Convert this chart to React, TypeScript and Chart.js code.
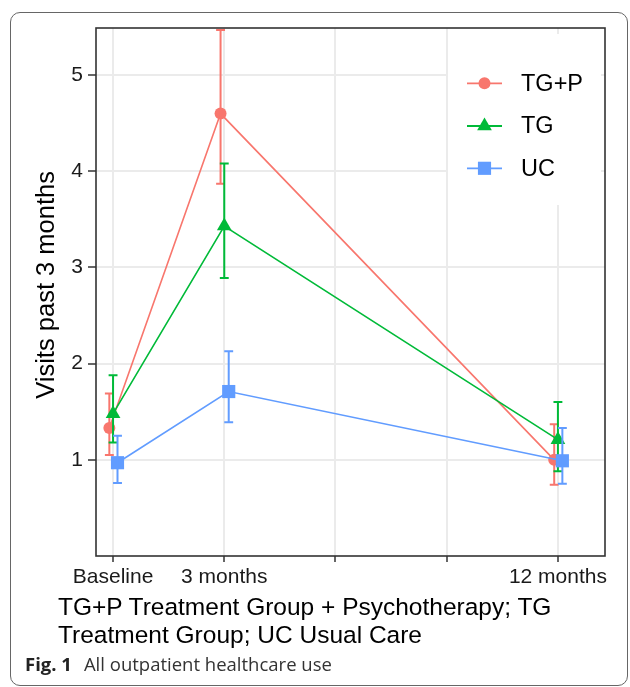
import React, { useEffect, useRef } from 'react';
import { Chart, registerables } from 'chart.js';

Chart.register(...registerables);

// ---- data ----
const timepoints = [0, 3, 12];
const xTickValues = [0, 3, 6, 9, 12];
const xTickLabels = ['Baseline', '3 months', '', '', '12 months'];
const yTickValues = [1, 2, 3, 4, 5];
const groups = ['TG+P', 'TG', 'UC'];

const tgpMean = [1.33, 4.6, 1.0];
const tgpLow = [1.05, 3.87, 0.74];
const tgpHigh = [1.69, 5.47, 1.37];

const tgMean = [1.48, 3.43, 1.21];
const tgLow = [1.18, 2.89, 0.88];
const tgHigh = [1.88, 4.08, 1.6];

const ucMean = [0.97, 1.71, 0.99];
const ucLow = [0.76, 1.39, 0.75];
const ucHigh = [1.25, 2.13, 1.33];

// ---- styles ----
const colors = ['#F8766D', '#00BA38', '#619CFF'];
const pointStyles = ['circle', 'triangle', 'rect'];
const pointRadii = [6, 8.5, 9.3];
const dodge = [-0.1, 0, 0.12];
const FONT = '"Liberation Sans", Arial, Helvetica, sans-serif';

const means = [tgpMean, tgMean, ucMean];
const lows = [tgpLow, tgLow, ucLow];
const highs = [tgpHigh, tgHigh, ucHigh];

function drawMarker(ctx: CanvasRenderingContext2D, style: string, x: number, y: number, r: number) {
  ctx.beginPath();
  if (style === 'circle') {
    ctx.arc(x, y, r, 0, Math.PI * 2);
  } else if (style === 'triangle') {
    for (let k = 0; k < 3; k++) {
      const a = (k * 2 * Math.PI) / 3;
      const px = x + Math.sin(a) * r;
      const py = y - Math.cos(a) * r;
      if (k === 0) ctx.moveTo(px, py);
      else ctx.lineTo(px, py);
    }
    ctx.closePath();
  } else {
    const s = r / Math.SQRT2;
    ctx.rect(x - s, y - s, 2 * s, 2 * s);
  }
  ctx.fill();
}

const errorBarPlugin = {
  id: 'errorBars',
  afterDatasetDraw(chart: any, args: any) {
    const i = args.index;
    const ds = chart.data.datasets[i];
    const xs = chart.scales.x;
    const ys = chart.scales.y;
    const ctx = chart.ctx;
    ctx.save();
    ctx.strokeStyle = ds.borderColor;
    ctx.lineWidth = 2;
    ds.data.forEach((d: any) => {
      const px = xs.getPixelForValue(d.x);
      const cl = xs.getPixelForValue(d.x - 0.12);
      const cr = xs.getPixelForValue(d.x + 0.12);
      const yh = ys.getPixelForValue(d.hi);
      const yl = ys.getPixelForValue(d.lo);
      ctx.beginPath();
      ctx.moveTo(px, yh);
      ctx.lineTo(px, yl);
      ctx.moveTo(cl, yh);
      ctx.lineTo(cr, yh);
      ctx.moveTo(cl, yl);
      ctx.lineTo(cr, yl);
      ctx.stroke();
    });
    ctx.restore();
  },
};

const legendPlugin = {
  id: 'insideLegend',
  beforeDatasetsDraw(chart: any) {
    const ctx = chart.ctx;
    const ca = chart.chartArea;
    const left = ca.right - 157;
    const top = ca.top + 6;
    ctx.save();
    ctx.fillStyle = '#FFFFFF';
    ctx.fillRect(left, top, 153, 171);
    const rowY = [ca.top + 55.3, ca.top + 98, ca.top + 140.3];
    chart.data.datasets.forEach((ds: any, i: number) => {
      const y = rowY[i];
      ctx.strokeStyle = ds.borderColor;
      ctx.lineWidth = 1.8;
      ctx.beginPath();
      ctx.moveTo(left + 19, y);
      ctx.lineTo(left + 54, y);
      ctx.stroke();
      ctx.fillStyle = ds.backgroundColor;
      drawMarker(ctx, ds.pointStyle, left + 36.5, y, ds.pointRadius);
      ctx.fillStyle = '#000';
      ctx.font = `23.5px ${FONT}`;
      ctx.textBaseline = 'middle';
      ctx.textAlign = 'left';
      ctx.fillText(ds.label, left + 73, y + 1);
    });
    ctx.restore();
  },
};

const panelBorderPlugin = {
  id: 'panelBorder',
  afterDraw(chart: any) {
    const ctx = chart.ctx;
    const ca = chart.chartArea;
    ctx.save();
    ctx.strokeStyle = '#333333';
    ctx.lineWidth = 1.6;
    ctx.strokeRect(ca.left, ca.top, ca.right - ca.left, ca.bottom - ca.top);
    ctx.restore();
  },
};

export default function App() {
  const ref = useRef<HTMLCanvasElement | null>(null);

  useEffect(() => {
    if (!ref.current) return;
    const chart = new Chart(ref.current, {
      type: 'scatter',
      data: {
        datasets: groups.map((g, i) => ({
          label: g,
          data: timepoints.map((t, j) => ({ x: t + dodge[i], y: means[i][j], lo: lows[i][j], hi: highs[i][j] })),
          showLine: true,
          borderColor: colors[i],
          backgroundColor: colors[i],
          borderWidth: 1.6,
          pointStyle: pointStyles[i],
          pointRadius: pointRadii[i],
          pointHoverRadius: pointRadii[i],
          pointBorderWidth: 0,
          order: 2 - i,
        })),
      } as any,
      options: {
        animation: false,
        responsive: false,
        devicePixelRatio: 1,
        layout: { padding: { left: 0, top: 28, right: 25, bottom: 0 } },
        plugins: { legend: { display: false }, tooltip: { enabled: false } },
        scales: {
          x: {
            type: 'linear',
            min: -0.46,
            max: 13.27,
            afterBuildTicks: (scale: any) => {
              scale.ticks = xTickValues.map((v) => ({ value: v }));
            },
            afterFit: (scale: any) => {
              scale.height = 44;
            },
            ticks: {
              autoSkip: false,
              maxRotation: 0,
              padding: 3,
              color: '#1a1a1a',
              font: { family: FONT, size: 21 },
              callback: (v: any) => {
                const k = xTickValues.indexOf(Number(v));
                return k >= 0 ? xTickLabels[k] : '';
              },
            },
            grid: {
              color: '#EBEBEB',
              lineWidth: 2,
              tickColor: '#333333',
              tickWidth: 1.5,
              tickLength: 6,
            },
            border: { display: false },
          },
          y: {
            type: 'linear',
            min: 0,
            max: 5.49,
            afterBuildTicks: (scale: any) => {
              scale.ticks = yTickValues.map((v) => ({ value: v }));
            },
            afterFit: (scale: any) => {
              scale.width = 96;
            },
            ticks: {
              padding: 5,
              color: '#1a1a1a',
              font: { family: FONT, size: 21 },
              callback: (v: any) => String(v),
            },
            grid: {
              color: '#EBEBEB',
              lineWidth: 2,
              tickColor: '#333333',
              tickWidth: 1.5,
              tickLength: 8,
            },
            border: { display: false },
            title: {
              display: true,
              text: '  Visits past 3 months',
              color: '#000',
              font: { family: FONT, size: 25.5 },
              padding: { top: 32, bottom: 0 },
            },
          },
        },
      } as any,
      plugins: [errorBarPlugin, legendPlugin, panelBorderPlugin],
    });
    return () => chart.destroy();
  }, []);

  return (
    <div style={{ position: 'absolute', left: 0, top: 0, width: 630, height: 687, overflow: 'hidden', background: '#fff' }}>
      <div
        style={{
          position: 'absolute',
          left: 10,
          top: 12,
          width: 616,
          height: 672,
          border: '1px solid #666',
          borderRadius: 10,
        }}
      />
      <canvas ref={ref} width={630} height={600} style={{ position: 'absolute', left: 0, top: 0 }} />
      <div
        style={{
          position: 'absolute',
          left: 58,
          top: 593,
          fontFamily: FONT,
          fontSize: 24.5,
          lineHeight: '27.5px',
          color: '#000',
          whiteSpace: 'nowrap',
        }}
      >
        TG+P Treatment Group + Psychotherapy; TG
        <br />
        Treatment Group; UC Usual Care
      </div>
      <div
        style={{
          position: 'absolute',
          left: 25,
          top: 652,
          fontFamily: '"Open Sans", sans-serif',
          fontSize: 18.5,
          lineHeight: '24px',
          whiteSpace: 'nowrap',
        }}
      >
        <span style={{ fontWeight: 700, color: '#222' }}>Fig. 1</span>
        <span style={{ color: '#333', marginLeft: 12 }}>All outpatient healthcare use</span>
      </div>
    </div>
  );
}
